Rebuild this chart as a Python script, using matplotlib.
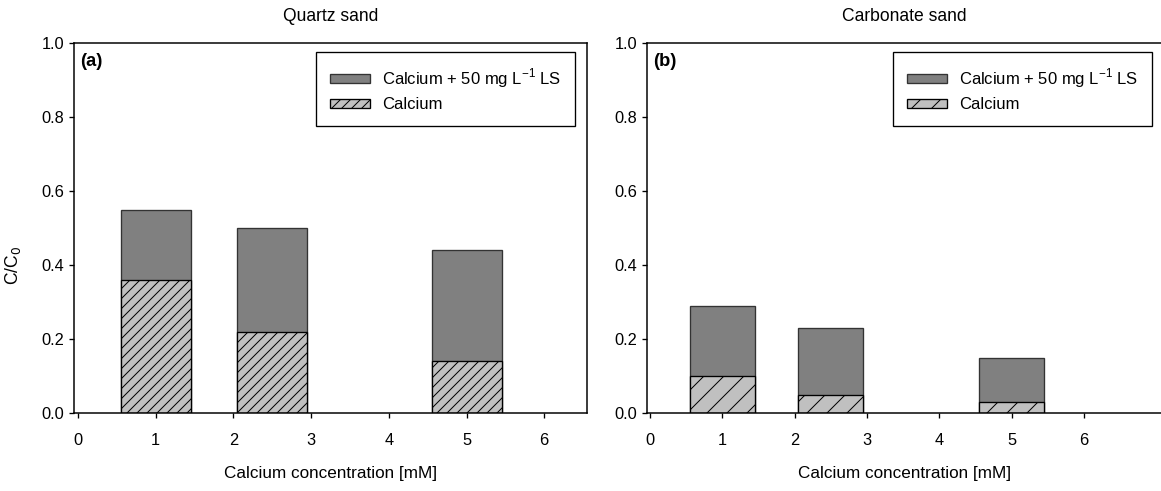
import matplotlib
matplotlib.use('Agg')
import matplotlib.pyplot as plt
import numpy as np

plt.rcParams['font.family'] = ['Liberation Sans', 'DejaVu Sans']
plt.rcParams['hatch.linewidth'] = 0.6

# data
conc = [1, 2.5, 5]
quartz_ls = [0.55, 0.50, 0.44]
quartz_ca = [0.36, 0.22, 0.14]
carb_ls = [0.29, 0.23, 0.15]
carb_ca = [0.10, 0.05, 0.03]
titles = ['Quartz sand', 'Carbonate sand']
tags = ['(a)', '(b)']
xticks = [0, 1, 2, 3, 4, 5, 6]
yticks = [0.0, 0.2, 0.4, 0.6, 0.8, 1.0]

fig = plt.figure(figsize=(1161 / 120, 491 / 120), dpi=120)
ax1 = fig.add_axes([74 / 1161, 78 / 491, 513 / 1161, 370 / 491])
ax2 = fig.add_axes([647 / 1161, 78 / 491, 515 / 1161, 370 / 491])

panels = [
    (ax1, quartz_ls, quartz_ca, '////', (-0.05, 6.55)),
    (ax2, carb_ls, carb_ca, '//', (-0.04, 7.08)),
]

for i, (ax, ls, ca, hatch, xl) in enumerate(panels):
    ax.bar(conc, ls, width=0.9, color='#808080', edgecolor='#333333', linewidth=0.8,
           label=r'Calcium + 50 mg L$^{\mathregular{-1}}$ LS')
    ax.bar(conc, ca, width=0.9, color='#c0c0c0', edgecolor='black', linewidth=0.8,
           hatch=hatch, label='Calcium')
    ax.set_xlim(xl)
    ax.set_ylim(0, 1.0)
    ax.set_xticks(xticks)
    ax.set_yticks(yticks)
    ax.set_yticklabels(['%.1f' % v for v in yticks])
    ax.tick_params(direction='out', length=3, width=0.8, labelsize=9.8, pad=9)
    ax.tick_params(axis='y', pad=3)
    for s in ax.spines.values():
        s.set_linewidth(0.9)
    ax.set_title(titles[i], fontsize=10.5, pad=13)
    ax.set_xlabel('Calcium concentration [mM]', fontsize=10.3, labelpad=11)
    ax.text(0.012, 0.95, tags[i], transform=ax.transAxes, fontsize=11,
            fontweight='bold', va='center', ha='left')
    leg = ax.legend(loc='upper right', fontsize=10, frameon=True, fancybox=False,
                    edgecolor='black', framealpha=1, borderpad=0.85,
                    labelspacing=0.45, handlelength=2.4, handleheight=0.5,
                    handletextpad=0.7, borderaxespad=0)
    leg.get_frame().set_linewidth(0.8)
    if i == 0:
        leg.set_bbox_to_anchor((575 / 1161, 1 - 52 / 491), transform=fig.transFigure)
    else:
        leg.set_bbox_to_anchor((1152 / 1161, 1 - 52 / 491), transform=fig.transFigure)

ax1.set_ylabel('C/C$_0$', fontsize=10.5)
ax1.yaxis.set_label_coords(-0.1, 0.4)

fig.savefig('out.png', dpi=120)
